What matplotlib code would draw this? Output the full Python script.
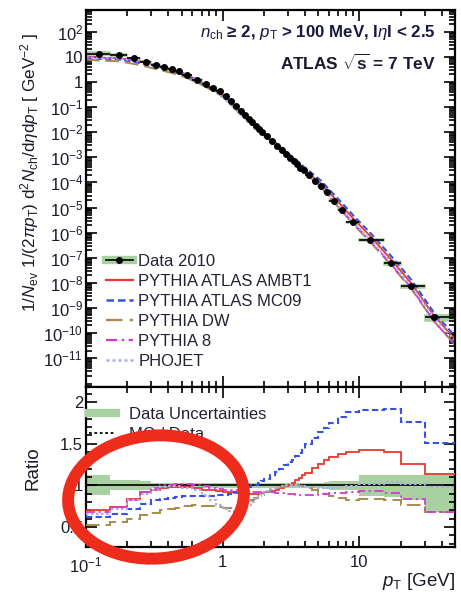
import numpy as np
import matplotlib
matplotlib.use("Agg")
import matplotlib.pyplot as plt
from matplotlib.patches import Ellipse
from matplotlib.lines import Line2D
from matplotlib.transforms import IdentityTransform
from matplotlib.ticker import FixedLocator, FixedFormatter, LogLocator, NullFormatter, MultipleLocator

plt.rcParams['font.family'] = ['Liberation Sans', 'DejaVu Sans']
plt.rcParams['mathtext.fontset'] = 'custom'
plt.rcParams['mathtext.rm'] = 'Liberation Sans'
plt.rcParams['mathtext.it'] = 'Liberation Sans:italic'
plt.rcParams['mathtext.bf'] = 'Liberation Sans:bold'

# ---------------- data ----------------
bin_edges = [0.1, 0.15, 0.2, 0.25, 0.3, 0.35, 0.4, 0.45, 0.5, 0.6, 0.7, 0.8, 0.9, 1.0,
             1.1, 1.2, 1.3, 1.4, 1.5, 1.6, 1.7, 1.8, 1.9, 2.0, 2.2, 2.4, 2.6, 2.8, 3.0,
             3.2, 3.4, 3.6, 3.8, 4.0, 4.5, 5.0, 5.5, 6.0, 7.0, 8.0, 10.0, 15.0, 20.0,
             30.0, 50.0]
data_pt = [0.125, 0.175, 0.225, 0.275, 0.325, 0.375, 0.425, 0.475, 0.55, 0.65, 0.75,
           0.85, 0.95, 1.05, 1.15, 1.25, 1.35, 1.45, 1.55, 1.65, 1.75, 1.85, 1.95, 2.1,
           2.3, 2.5, 2.7, 2.9, 3.1, 3.3, 3.5, 3.7, 3.9, 4.25, 4.75, 5.25, 5.75, 6.5,
           7.5, 9.0, 12.0, 17.0, 24.0, 35.0]
data_y = [13.5, 12.0, 8.7, 6.5, 4.9, 3.9, 3.16, 2.63, 1.91, 1.26, 0.85, 0.59, 0.42,
          0.275, 0.17, 0.11, 0.072, 0.049, 0.035, 0.025, 0.018, 0.0135, 0.0102, 0.0069,
          0.0044, 0.0029, 0.00195, 0.00138, 9.8e-4, 7.2e-4, 5.4e-4, 3.9e-4, 3.0e-4,
          2.0e-4, 1.15e-4, 7.1e-5, 4.0e-5, 1.9e-5, 8.1e-6, 2.6e-6, 5.1e-7, 6.2e-8,
          7.4e-9, 4.4e-10]
edge_pt = [0.1, 50.0]
edge_y = [15.0, 5.0e-11]

unc_lo = [0.88, 0.94, 0.94, 0.95, 0.97, 0.97, 0.97, 0.97, 0.97, 0.97, 0.97, 0.97, 0.97,
          0.97, 0.97, 0.97, 0.97, 0.97, 0.97, 0.97, 0.97, 0.97, 0.97, 0.97, 0.97, 0.97,
          0.97, 0.97, 0.97, 0.97, 0.97, 0.97, 0.97, 0.97, 0.97, 0.97, 0.96, 0.95, 0.95,
          0.95, 0.87, 0.86, 0.82, 0.68]
unc_hi = [1.12, 1.06, 1.06, 1.05, 1.03, 1.03, 1.03, 1.03, 1.03, 1.03, 1.03, 1.03, 1.03,
          1.03, 1.03, 1.03, 1.03, 1.03, 1.03, 1.03, 1.03, 1.03, 1.03, 1.03, 1.03, 1.03,
          1.03, 1.03, 1.03, 1.03, 1.03, 1.03, 1.03, 1.03, 1.03, 1.03, 1.04, 1.05, 1.05,
          1.05, 1.12, 1.12, 1.13, 1.14]

ratio_ambt1 = [0.70, 0.74, 0.84, 0.92, 0.95, 0.97, 0.98, 0.98, 0.98, 0.97, 0.95, 0.94,
               0.93, 0.92, 0.92, 0.91, 0.91, 0.91, 0.90, 0.90, 0.90, 0.90, 0.91, 0.92,
               0.93, 0.95, 0.97, 0.99, 1.01, 1.03, 1.06, 1.09, 1.12, 1.15, 1.21, 1.26,
               1.30, 1.34, 1.38, 1.40, 1.42, 1.40, 1.26, 1.14]
ratio_mc09 = [0.62, 0.66, 0.72, 0.78, 0.82, 0.84, 0.85, 0.86, 0.87, 0.87, 0.87, 0.87,
              0.88, 0.89, 0.90, 0.92, 0.94, 0.96, 0.98, 1.00, 1.01, 1.03, 1.05, 1.08,
              1.12, 1.16, 1.20, 1.24, 1.28, 1.31, 1.35, 1.39, 1.43, 1.50, 1.57, 1.64,
              1.69, 1.75, 1.82, 1.88, 1.91, 1.92, 1.76, 1.51]
ratio_dw = [0.53, 0.56, 0.60, 0.64, 0.67, 0.70, 0.72, 0.73, 0.75, 0.76, 0.75, 0.75,
            0.74, 0.73, 0.73, 0.74, 0.76, 0.78, 0.80, 0.82, 0.85, 0.87, 0.89, 0.92,
            0.95, 0.97, 0.98, 0.99, 1.00, 1.00, 1.00, 0.99, 0.99, 0.97, 0.95, 0.92,
            0.90, 0.87, 0.85, 0.83, 0.84, 0.82, 0.76, 0.68]
ratio_py8 = [0.68, 0.74, 0.83, 0.92, 0.97, 1.00, 1.01, 1.02, 1.02, 1.01, 0.99, 0.97,
             0.96, 0.95, 0.94, 0.94, 0.93, 0.93, 0.93, 0.92, 0.92, 0.92, 0.92, 0.92,
             0.92, 0.91, 0.91, 0.90, 0.90, 0.90, 0.89, 0.89, 0.89, 0.89, 0.89, 0.90,
             0.90, 0.91, 0.91, 0.92, 0.93, 0.91, 0.84, 0.68]
ratio_phojet = [0.66, 0.72, 0.82, 0.90, 0.95, 0.98, 0.99, 0.99, 0.97, 0.94, 0.88, 0.82,
                0.77, 0.72, 0.69, 0.68, 0.69, 0.72, 0.76, 0.80, 0.84, 0.87, 0.90, 0.93,
                0.96, 0.98, 0.99, 1.00, 1.00, 1.00, 1.00, 0.99, 0.99, 0.98, 0.98, 0.97,
                0.97, 0.97, 0.98, 0.99, 1.02, 1.04, 1.02, 0.98]

mc_labels = ["PYTHIA ATLAS AMBT1", "PYTHIA ATLAS MC09", "PYTHIA DW", "PYTHIA 8", "PHOJET"]
mc_ratios = [ratio_ambt1, ratio_mc09, ratio_dw, ratio_py8, ratio_phojet]

top_yticks = [1e2, 1e1, 1e0, 1e-1, 1e-2, 1e-3, 1e-4, 1e-5, 1e-6, 1e-7, 1e-8, 1e-9, 1e-10, 1e-11]
top_yticklabels = ["$10^{2}$", "10", "1", "$10^{-1}$", "$10^{-2}$", "$10^{-3}$", "$10^{-4}$",
                   "$10^{-5}$", "$10^{-6}$", "$10^{-7}$", "$10^{-8}$", "$10^{-9}$",
                   "$10^{-10}$", "$10^{-11}$"]
xticks = [0.1, 1, 10]
xticklabels = ["$10^{-1}$", "1", "10"]
ratio_yticks = [0.5, 1.0, 1.5, 2.0]
ratio_yticklabels = ["0.5", "1", "1.5", "2"]

# ---------------- styles ----------------
mc_colors = ["#e8382f", "#3552e0", "#a88a4c", "#d23ad6", "#a5aef0"]
mc_dashes = [None, (3.0, 1.6), (7, 3), (5, 2, 1.2, 2), (1.2, 1.2)]
mc_lw = [1.3, 1.5, 1.4, 1.3, 1.5]
green = "#a9d0a0"
txt = '#1a1a2a'
FS = 12

W, H = 461, 597
fig = plt.figure(figsize=(W / 100, H / 100), dpi=100)
L, R = 86, 455
ax = fig.add_axes([L / W, 1 - 387 / H, (R - L) / W, (387 - 10) / H])
ax2 = fig.add_axes([L / W, 1 - 547 / H, (R - L) / W, (547 - 387) / H])

edges = np.array(bin_edges)
pt = np.array(data_pt)
y = np.array(data_y)

# ---- top panel ----
for i in range(len(pt)):
    ax.fill_between([edges[i], edges[i + 1]], y[i] * unc_lo[i], y[i] * unc_hi[i],
                    color=green, lw=1.2, edgecolor=green, zorder=1)
for r, c, d, lw in zip(mc_ratios, mc_colors, mc_dashes, mc_lw):
    xs = np.concatenate([[edge_pt[0]], pt, [edge_pt[1]]])
    ys = np.concatenate([[edge_y[0] * r[0]], y * np.array(r), [edge_y[1] * r[-1]]])
    ln, = ax.plot(xs, ys, color=c, lw=lw, zorder=2)
    if d is not None:
        ln.set_dashes(d)
ax.errorbar(pt, y, xerr=[pt - edges[:-1], edges[1:] - pt], fmt='o', color='black',
            ms=4.0, lw=1.2, capsize=0, zorder=3)

ax.set_xscale('log')
ax.set_yscale('log')
ax.set_xlim(0.1, 50)
ax.set_ylim(10 ** -12.15, 10 ** 2.87)
ax.yaxis.set_major_locator(FixedLocator(top_yticks))
ax.yaxis.set_major_formatter(FixedFormatter(top_yticklabels))
ax.yaxis.set_minor_locator(LogLocator(base=10, subs=np.arange(2, 10), numticks=40))
ax.yaxis.set_minor_formatter(NullFormatter())
ax.xaxis.set_major_locator(FixedLocator(xticks))
ax.xaxis.set_minor_locator(LogLocator(base=10, subs=np.arange(2, 10), numticks=20))
ax.set_xticklabels([])
ax.xaxis.set_minor_formatter(NullFormatter())

for a in (ax, ax2):
    a.tick_params(which='both', direction='in', top=True, right=True, width=1.2,
                  labelcolor=txt)
    a.tick_params(which='major', length=8, labelsize=FS, pad=2)
    a.tick_params(which='minor', length=4)
    for s in a.spines.values():
        s.set_linewidth(1.6)

ax.text(0.948, 0.94, r"$n_{\rm ch}$ ≥ 2, $p_{\rm T}$ > 100 MeV, I$\eta$I < 2.5",
        transform=ax.transAxes, ha='right', va='center', fontsize=12.2,
        fontweight='bold', color='#1a1a40')
ax.text(0.948, 0.86, r"ATLAS $\mathbf{\sqrt{s}}$ = 7 TeV", transform=ax.transAxes,
        ha='right', va='center', fontsize=12.4, fontweight='bold', color='#1a1a30')

data_handle = (Line2D([], [], color=green, lw=6),
               Line2D([], [], color='black', lw=1.2, marker='o', ms=4))
handles = [data_handle]
for c, d, lw in zip(mc_colors, mc_dashes, mc_lw):
    h = Line2D([], [], color=c, lw=lw + 0.3)
    if d is not None:
        h.set_dashes(d)
    handles.append(h)
leg = ax.legend(handles, ["Data 2010"] + mc_labels, loc='upper left',
                bbox_to_anchor=(106 / W, 1 - 254 / H), bbox_transform=fig.transFigure,
                frameon=False, fontsize=FS, handlelength=1.6, handletextpad=0.35,
                labelspacing=0.3, borderpad=0, borderaxespad=0)
for t in leg.get_texts():
    t.set_color('#222233')

fig.text(30 / W, 1 - 172 / H,
         r"1/$N_{\rm ev}$ 1/(2$\pi p_{\rm T}$) d$^{2}$$N_{\rm ch}$/d$\eta$d$p_{\rm T}$ [ GeV$^{-2}$ ]",
         rotation=90, ha='center', va='center', fontsize=12.3, color=txt)

# ---- ratio panel ----
ax2.stairs(unc_hi, edges, baseline=unc_lo, fill=True, color=green, zorder=1)
ax2.axhline(1.0, color='black', lw=1.2, zorder=2)
for r, c, d, lw in zip(mc_ratios, mc_colors, mc_dashes, mc_lw):
    st = ax2.stairs(r, edges, color=c, lw=lw, zorder=3, baseline=None)
    if d is not None:
        st.set_linestyle((0, d))

ax2.set_xscale('log')
ax2.set_xlim(0.1, 50)
ax2.set_ylim(0.26, 2.18)
ax2.xaxis.set_major_locator(FixedLocator(xticks))
ax2.xaxis.set_major_formatter(FixedFormatter(xticklabels))
ax2.xaxis.set_minor_locator(LogLocator(base=10, subs=np.arange(2, 10), numticks=20))
ax2.xaxis.set_minor_formatter(NullFormatter())
ax2.yaxis.set_major_locator(FixedLocator(ratio_yticks))
ax2.yaxis.set_major_formatter(FixedFormatter(ratio_yticklabels))
ax2.yaxis.set_minor_locator(MultipleLocator(0.1))
ax2.tick_params(axis='x', which='major', pad=6)

leg2 = ax2.legend([Line2D([], [], color=green, lw=6),
                   Line2D([], [], color='black', lw=1.3, ls=(0, (1.5, 1.5)))],
                  ["Data Uncertainties", "MC / Data"], loc='upper left',
                  bbox_to_anchor=(89 / W, 1 - 407 / H), bbox_transform=fig.transFigure,
                  frameon=False, fontsize=FS, handlelength=1.6, handletextpad=0.8,
                  labelspacing=0.3, borderpad=0, borderaxespad=0)
for t in leg2.get_texts():
    t.set_color('#222233')

fig.text(33 / W, 1 - 468 / H, "Ratio", rotation=90, ha='center', va='center',
         fontsize=13.5, color=txt)
fig.text(455 / W, 1 - 582 / H, r"$p_{\rm T}$ [GeV]", ha='right', va='center',
         fontsize=13.5, color=txt)

# ---- red annotation ellipse ----
ell = Ellipse((156, H - 497), 176, 123, angle=4, transform=IdentityTransform(),
              fill=False, edgecolor='#ee2c1c', lw=8.6, zorder=10)
fig.add_artist(ell)

fig.savefig("out.png", dpi=100)
